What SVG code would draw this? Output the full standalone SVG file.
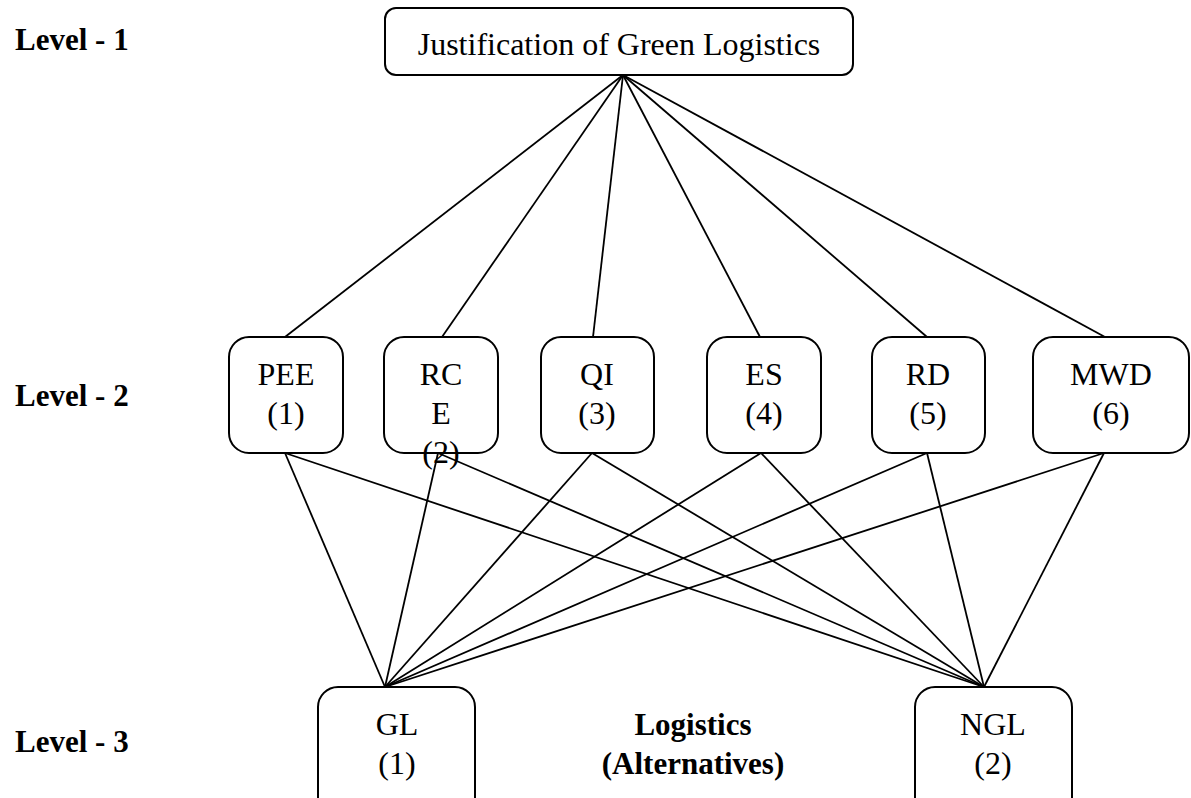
<svg xmlns="http://www.w3.org/2000/svg" width="1191" height="798" viewBox="0 0 1191 798">
  <style>
    .box { fill: #ffffff; stroke: #000000; stroke-width: 2; }
    .t { font-size: 32px; fill: #000000; text-anchor: middle; }
    .lvl { font-size: 31px; font-weight: bold; fill: #000000; }
    .b { font-size: 31px; font-weight: bold; fill: #000000; text-anchor: middle; }
    .edge { stroke: #000000; stroke-width: 1.8; fill: none; }
  </style>
  <rect x="0" y="0" width="1191" height="798" fill="#ffffff"/>

  <g font-family="Liberation Serif, Tinos, Times New Roman, Noto Serif, DejaVu Serif, serif">
  <!-- level labels -->
  <g id="labels">
    <text class="lvl" x="15" y="50">Level - 1</text>
    <text class="lvl" x="15" y="406">Level - 2</text>
    <text class="lvl" x="15" y="752">Level - 3</text>
  </g>

  <!-- connectors -->
  <g id="connectors">
    <!-- goal to criteria -->
    <line class="edge" x1="623" y1="75" x2="285" y2="337"/>
    <line class="edge" x1="623" y1="75" x2="442" y2="337"/>
    <line class="edge" x1="623" y1="75" x2="593" y2="337"/>
    <line class="edge" x1="623" y1="75" x2="760" y2="337"/>
    <line class="edge" x1="623" y1="75" x2="927" y2="337"/>
    <line class="edge" x1="623" y1="75" x2="1105" y2="337"/>
    <!-- criteria to GL -->
    <line class="edge" x1="285" y1="453" x2="385" y2="687"/>
    <line class="edge" x1="438" y1="453" x2="385" y2="687"/>
    <line class="edge" x1="592" y1="453" x2="385" y2="687"/>
    <line class="edge" x1="761" y1="453" x2="385" y2="687"/>
    <line class="edge" x1="927" y1="453" x2="385" y2="687"/>
    <line class="edge" x1="1104" y1="453" x2="385" y2="687"/>
    <!-- criteria to NGL -->
    <line class="edge" x1="285" y1="453" x2="984" y2="687"/>
    <line class="edge" x1="438" y1="453" x2="984" y2="687"/>
    <line class="edge" x1="592" y1="453" x2="984" y2="687"/>
    <line class="edge" x1="761" y1="453" x2="984" y2="687"/>
    <line class="edge" x1="927" y1="453" x2="984" y2="687"/>
    <line class="edge" x1="1104" y1="453" x2="984" y2="687"/>
  </g>

  <!-- goal -->
  <g id="goal">
    <rect class="box" x="385" y="8" width="468" height="67" rx="11"/>
    <text class="t" x="619" y="55">Justification of Green Logistics</text>
  </g>

  <!-- criteria -->
  <g id="pee">
    <rect class="box" x="229" y="337" width="114" height="116" rx="20"/>
    <text class="t" x="286" y="385">PEE</text>
    <text class="t" x="286" y="424">(1)</text>
  </g>
  <g id="rce">
    <rect class="box" x="384" y="337" width="114" height="116" rx="20"/>
    <text class="t" x="441" y="385">RC</text>
    <text class="t" x="441" y="424">E</text>
    <text class="t" x="441" y="463">(2)</text>
  </g>
  <g id="qi">
    <rect class="box" x="541" y="337" width="113" height="116" rx="20"/>
    <text class="t" x="597" y="385">QI</text>
    <text class="t" x="597" y="424">(3)</text>
  </g>
  <g id="es">
    <rect class="box" x="707" y="337" width="114" height="116" rx="20"/>
    <text class="t" x="764" y="385">ES</text>
    <text class="t" x="764" y="424">(4)</text>
  </g>
  <g id="rd">
    <rect class="box" x="872" y="337" width="113" height="116" rx="20"/>
    <text class="t" x="928" y="385">RD</text>
    <text class="t" x="928" y="424">(5)</text>
  </g>
  <g id="mwd">
    <rect class="box" x="1033" y="337" width="156" height="116" rx="20"/>
    <text class="t" x="1111" y="385">MWD</text>
    <text class="t" x="1111" y="424">(6)</text>
  </g>

  <!-- alternatives -->
  <g id="gl">
    <rect class="box" x="318" y="687" width="157" height="140" rx="20"/>
    <text class="t" x="397" y="735">GL</text>
    <text class="t" x="397" y="774">(1)</text>
  </g>
  <g id="alt-label">
    <text class="b" x="693" y="735">Logistics</text>
    <text class="b" x="693" y="774">(Alternatives)</text>
  </g>
  <g id="ngl">
    <rect class="box" x="915" y="687" width="157" height="140" rx="20"/>
    <text class="t" x="993" y="735">NGL</text>
    <text class="t" x="993" y="774">(2)</text>
  </g>
  </g>
</svg>
